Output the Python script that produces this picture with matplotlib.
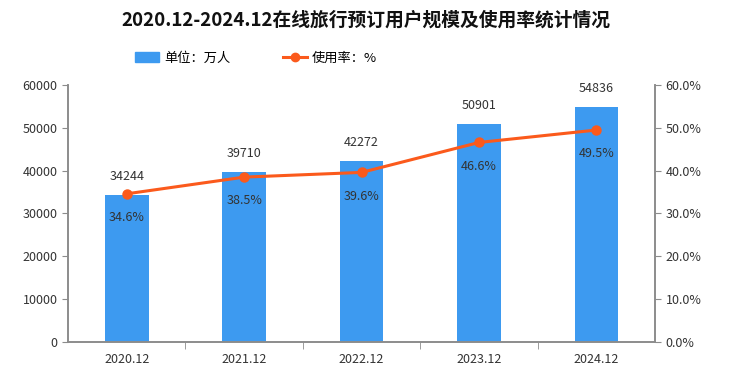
import matplotlib.pyplot as plt
from matplotlib.lines import Line2D
from matplotlib.patches import Patch

plt.rcParams['font.family'] = ['Noto Sans CJK SC', 'DejaVu Sans']

periods = ["2020.12", "2021.12", "2022.12", "2023.12", "2024.12"]
users = [34244, 39710, 42272, 50901, 54836]
rate = [34.6, 38.5, 39.6, 46.6, 49.5]

bar_color = '#3d9af0'
line_color = '#fb5a1c'
axis_color = '#8c8c8c'
text_color = '#333333'

fig = plt.figure(figsize=(7.32, 3.70), dpi=100)
ax = fig.add_axes([0.093, 0.076, 0.802, 0.694])
ax2 = ax.twinx()

x = list(range(len(periods)))
ax.bar(x, users, width=0.37, color=bar_color, zorder=2)
for xi, v in zip(x, users):
    ax.text(xi, v + 2800, str(v), ha='center', va='bottom', fontsize=9, color=text_color)

ax2.plot(x, rate, color=line_color, lw=2.2, marker='o', ms=6.5, zorder=3)
for xi, r in zip(x, rate):
    ax2.text(xi, r - 4.0, f"{r}%", ha='center', va='top', fontsize=9, color=text_color)

ax.set_xlim(-0.5, len(periods) - 0.5)
ax.set_ylim(0, 60000)
ax.set_yticks(range(0, 60001, 10000))
ax2.set_ylim(0, 60)
ax2.set_yticks(range(0, 61, 10))
ax2.set_yticklabels([f"{t:.1f}%" for t in range(0, 61, 10)])

ax.set_xticks(x)
ax.set_xticklabels(periods)
ax.set_xticks([i + 0.5 for i in x[:-1]], minor=True)
ax.tick_params(axis='x', which='major', length=0, pad=8, labelsize=9, labelcolor=text_color)
ax.tick_params(axis='x', which='minor', length=5, color=axis_color, direction='out')
ax.tick_params(axis='y', length=4, color=axis_color, labelsize=9, labelcolor=text_color)
ax2.tick_params(axis='y', length=4, color=axis_color, labelsize=9, labelcolor=text_color)

for a in (ax, ax2):
    a.spines['top'].set_visible(False)
    for side in ('left', 'right', 'bottom'):
        a.spines[side].set_color(axis_color)
        a.spines[side].set_linewidth(1.2)

fig.text(0.5, 0.945, "2020.12-2024.12在线旅行预订用户规模及使用率统计情况",
         ha='center', va='center', fontsize=13.5, fontweight='bold', color='#111111')

handles = [Patch(color=bar_color, label="单位：万人"),
           Line2D([0], [0], color=line_color, lw=2.2, marker='o', ms=6, label="使用率：%")]
fig.legend(handles=handles, loc='center', bbox_to_anchor=(0.35, 0.843), ncol=2,
           frameon=False, fontsize=9.5, columnspacing=4, handlelength=1.8,
           handletextpad=0.4)

fig.savefig('out.png', dpi=100)
